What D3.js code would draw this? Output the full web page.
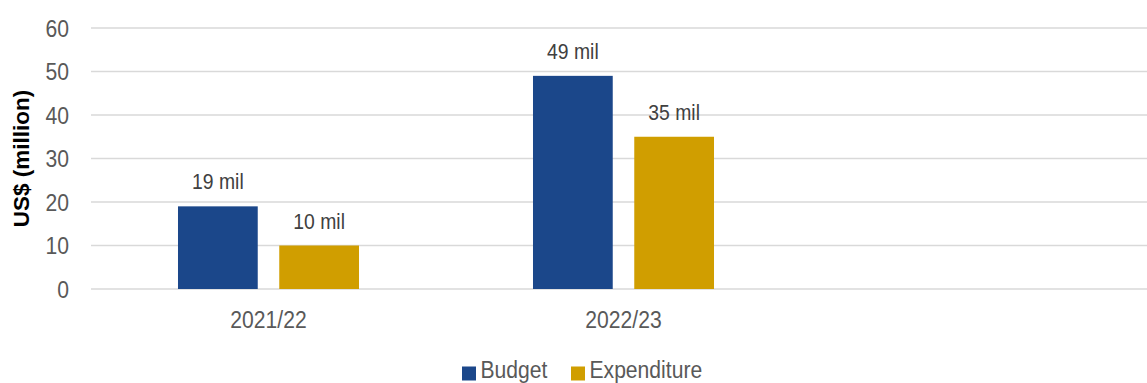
<!DOCTYPE html>
<html>
<head>
<meta charset="utf-8">
<script src="https://cdn.jsdelivr.net/npm/d3@7"></script>
<style>
  html, body { margin: 0; padding: 0; background: #fff; }
  svg { display: block; }
  text { font-family: "Liberation Sans", Arial, sans-serif; }
</style>
</head>
<body>
<svg id="chart" width="1147" height="383"></svg>
<script>
// Fiscal years shown on the x axis (the last slot is left empty)
const categories = ["2021/22", "2022/23", ""];
const seriesNames = ["Budget", "Expenditure"];
const budget = [19, 49, null];
const expenditure = [10, 35, null];
const yTicks = [0, 10, 20, 30, 40, 50, 60];
const colors = { Budget: "#1B478A", Expenditure: "#D09E00" };

const svg = d3.select("#chart");
const W = 1147, H = 383;
const NARROW = "scale(0.88,1)";

const plot = { left: 91, right: 1156, top: 28, bottom: 289 };

const y = d3.scaleLinear().domain([0, 60]).range([plot.bottom, plot.top]);
const x0 = d3.scaleBand().domain(categories).range([plot.left, plot.right]).padding(0);
const x1 = d3.scaleBand().domain(seriesNames).range([0, x0.bandwidth()])
  .paddingInner(0.2125).paddingOuter(0.859);

// Horizontal gridlines
svg.append("g")
  .selectAll("line")
  .data(yTicks)
  .join("line")
  .attr("x1", plot.left).attr("x2", W)
  .attr("y1", d => y(d)).attr("y2", d => y(d))
  .attr("stroke", "#d9d9d9").attr("stroke-width", 1.6);

// Y axis tick labels
const yAxis = d3.axisLeft(y).tickValues(yTicks).tickSize(0).tickPadding(0);
const yG = svg.append("g").attr("transform", `translate(69,0)`).call(yAxis);
yG.select(".domain").remove();
yG.attr("font-family", null).attr("font-size", null);
yG.selectAll("text")
  .attr("font-size", 24)
  .attr("dy", "0.35em")
  .attr("transform", NARROW)
  .attr("fill", "#595959");

// Y axis title
svg.append("text")
  .attr("transform", `translate(28.5,158.5) rotate(-90)`)
  .attr("text-anchor", "middle")
  .attr("font-size", 22.5)
  .attr("font-weight", "bold")
  .attr("fill", "#000")
  .text("US$ (million)");

// X axis category labels
const xAxis = d3.axisBottom(x0).tickSize(0).tickPadding(0);
const xG = svg.append("g").attr("transform", `translate(0,${plot.bottom})`).call(xAxis);
xG.select(".domain").remove();
xG.attr("font-family", null).attr("font-size", null);
xG.selectAll("text")
  .attr("font-size", 24)
  .attr("y", 38.7)
  .attr("dy", 0)
  .attr("transform", NARROW)
  .attr("fill", "#595959");

// Bars grouped by year
const rows = categories.map((c, i) => ({
  cat: c,
  values: [
    { key: "Budget", value: budget[i] },
    { key: "Expenditure", value: expenditure[i] }
  ].filter(d => d.value != null)
}));

const groups = svg.append("g")
  .selectAll("g")
  .data(rows)
  .join("g")
  .attr("transform", d => `translate(${x0(d.cat)},0)`);

groups.selectAll("rect")
  .data(d => d.values)
  .join("rect")
  .attr("x", d => x1(d.key))
  .attr("width", x1.bandwidth())
  .attr("y", d => y(d.value))
  .attr("height", d => y(0) - y(d.value))
  .attr("fill", d => colors[d.key]);

// Value labels above bars
groups.selectAll("g.val")
  .data(d => d.values)
  .join("g")
  .attr("class", "val")
  .attr("transform", d => `translate(${x1(d.key) + x1.bandwidth() / 2},${y(d.value) - 17}) ${NARROW}`)
  .append("text")
  .attr("text-anchor", "middle")
  .attr("font-size", 22)
  .attr("fill", "#404040")
  .text(d => `${d.value} mil`);

// Legend
const legendItems = [
  { key: "Budget", x: 462, tx: 480.5 },
  { key: "Expenditure", x: 571, tx: 589.5 }
];
const legend = svg.append("g");
legend.selectAll("rect")
  .data(legendItems)
  .join("rect")
  .attr("x", d => d.x).attr("y", 366.5)
  .attr("width", 14).attr("height", 14)
  .attr("fill", d => colors[d.key]);
legend.selectAll("g")
  .data(legendItems)
  .join("g")
  .attr("transform", d => `translate(${d.tx},377.5) ${NARROW}`)
  .append("text")
  .attr("font-size", 24)
  .attr("fill", "#595959")
  .text(d => d.key);
</script>
</body>
</html>
